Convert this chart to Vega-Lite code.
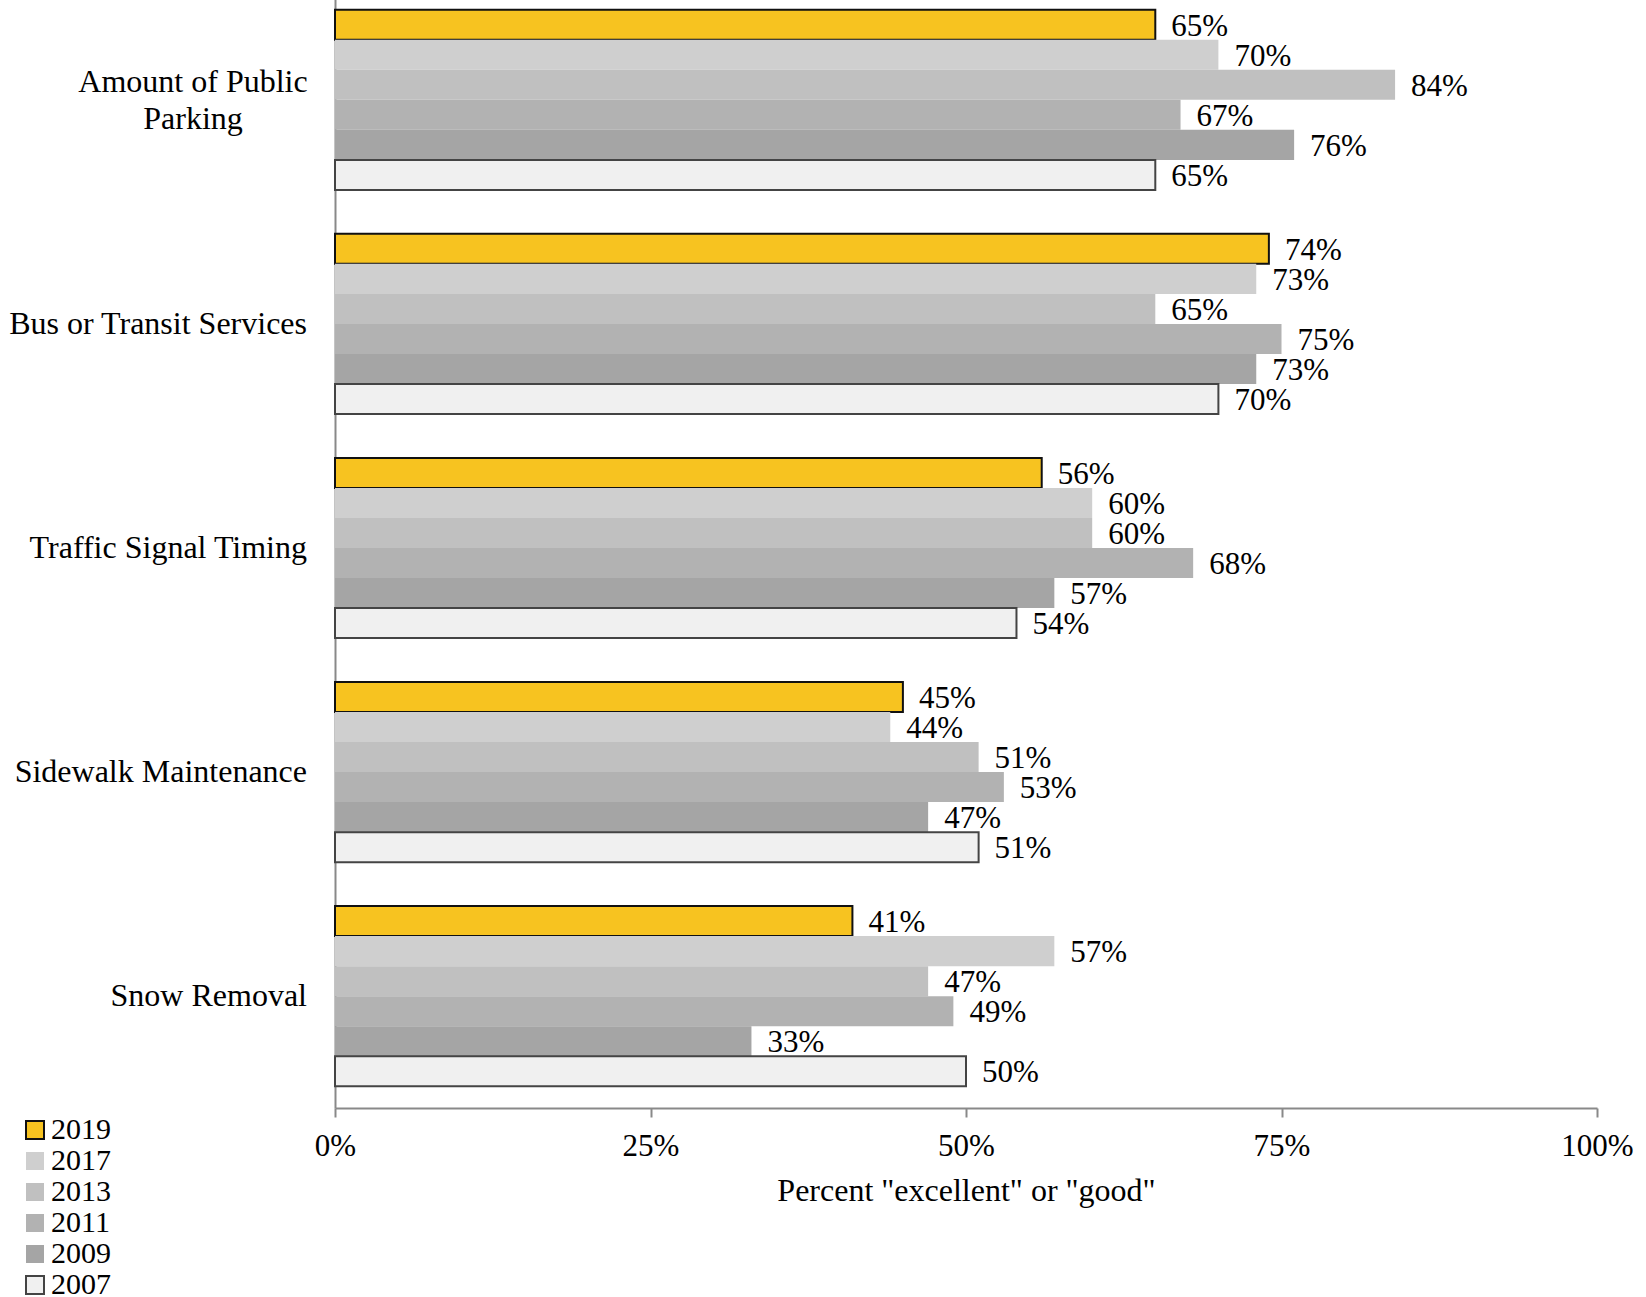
{
  "$schema": "https://vega.github.io/schema/vega-lite/v6.json",
  "autosize": {"type": "none"},
  "padding": {"left": 335, "top": -12, "right": 49, "bottom": 189},
  "width": 1262,
  "height": 1120,
  "background": "white",
  "config": {
    "font": "Liberation Serif",
    "view": {"stroke": null},
    "axis": {"labelFont": "Liberation Serif", "titleFont": "Liberation Serif", "labelColor": "black", "titleColor": "black", "grid": false}
  },
  "datasets": {
    "bars": [
      {"category": "Amount of Public Parking", "year": "2019", "value": 0.65},
      {"category": "Amount of Public Parking", "year": "2017", "value": 0.70},
      {"category": "Amount of Public Parking", "year": "2013", "value": 0.84},
      {"category": "Amount of Public Parking", "year": "2011", "value": 0.67},
      {"category": "Amount of Public Parking", "year": "2009", "value": 0.76},
      {"category": "Amount of Public Parking", "year": "2007", "value": 0.65},
      {"category": "Bus or Transit Services", "year": "2019", "value": 0.74},
      {"category": "Bus or Transit Services", "year": "2017", "value": 0.73},
      {"category": "Bus or Transit Services", "year": "2013", "value": 0.65},
      {"category": "Bus or Transit Services", "year": "2011", "value": 0.75},
      {"category": "Bus or Transit Services", "year": "2009", "value": 0.73},
      {"category": "Bus or Transit Services", "year": "2007", "value": 0.70},
      {"category": "Traffic Signal Timing", "year": "2019", "value": 0.56},
      {"category": "Traffic Signal Timing", "year": "2017", "value": 0.60},
      {"category": "Traffic Signal Timing", "year": "2013", "value": 0.60},
      {"category": "Traffic Signal Timing", "year": "2011", "value": 0.68},
      {"category": "Traffic Signal Timing", "year": "2009", "value": 0.57},
      {"category": "Traffic Signal Timing", "year": "2007", "value": 0.54},
      {"category": "Sidewalk Maintenance", "year": "2019", "value": 0.45},
      {"category": "Sidewalk Maintenance", "year": "2017", "value": 0.44},
      {"category": "Sidewalk Maintenance", "year": "2013", "value": 0.51},
      {"category": "Sidewalk Maintenance", "year": "2011", "value": 0.53},
      {"category": "Sidewalk Maintenance", "year": "2009", "value": 0.47},
      {"category": "Sidewalk Maintenance", "year": "2007", "value": 0.51},
      {"category": "Snow Removal", "year": "2019", "value": 0.41},
      {"category": "Snow Removal", "year": "2017", "value": 0.57},
      {"category": "Snow Removal", "year": "2013", "value": 0.47},
      {"category": "Snow Removal", "year": "2011", "value": 0.49},
      {"category": "Snow Removal", "year": "2009", "value": 0.33},
      {"category": "Snow Removal", "year": "2007", "value": 0.50}
    ],
    "labels": [
      {"category": "Amount of Public Parking", "label": ["Amount of Public", "Parking"], "wrapped": true},
      {"category": "Bus or Transit Services", "label": "Bus or Transit Services", "wrapped": false},
      {"category": "Traffic Signal Timing", "label": "Traffic Signal Timing", "wrapped": false},
      {"category": "Sidewalk Maintenance", "label": "Sidewalk Maintenance", "wrapped": false},
      {"category": "Snow Removal", "label": "Snow Removal", "wrapped": false}
    ]
  },
  "layer": [
    {
      "data": {"name": "bars"},
      "mark": {"type": "bar", "strokeWidth": 2},
      "encoding": {
        "y": {
          "field": "category", "type": "nominal",
          "scale": {"domain": ["Amount of Public Parking", "Bus or Transit Services", "Traffic Signal Timing", "Sidewalk Maintenance", "Snow Removal"], "paddingInner": 0.196, "paddingOuter": 0.097},
          "axis": {"title": null, "ticks": false, "labels": false, "domainColor": "#898989", "domainWidth": 2}
        },
        "yOffset": {
          "field": "year", "type": "nominal",
          "scale": {"domain": ["2019", "2017", "2013", "2011", "2009", "2007"], "paddingInner": 0, "paddingOuter": 0}
        },
        "x": {
          "field": "value", "type": "quantitative",
          "scale": {"domain": [0, 1]},
          "axis": {
            "values": [0, 0.25, 0.5, 0.75, 1], "format": ".0%",
            "title": "Percent \"excellent\" or \"good\"", "titleFontSize": 32, "titleFontWeight": "normal", "titlePadding": 14,
            "labelFontSize": 31, "labelPadding": 14, "tickSize": 9, "tickColor": "#898989", "tickWidth": 2,
            "domainColor": "#898989", "domainWidth": 2, "labelFlush": false
          }
        },
        "color": {
          "field": "year", "type": "nominal",
          "scale": {"domain": ["2019", "2017", "2013", "2011", "2009", "2007"], "range": ["#f7c320", "#cfcfcf", "#c0c0c0", "#b2b2b2", "#a5a5a5", "#f0f0f0"]},
          "legend": {
            "title": null, "orient": "none", "legendX": -315, "legendY": 1127,
            "symbolType": "square", "symbolSize": 324, "symbolOpacity": 1, "symbolStrokeWidth": 2,
            "labelFontSize": 30, "labelFont": "Liberation Serif", "labelColor": "black", "labelOffset": 1, "rowPadding": 1
          }
        },
        "stroke": {
          "field": "year", "type": "nominal",
          "scale": {"domain": ["2019", "2017", "2013", "2011", "2009", "2007"], "range": ["#111111", "transparent", "transparent", "transparent", "transparent", "#444444"]},
          "legend": null
        }
      }
    },
    {
      "data": {"name": "bars"},
      "mark": {"type": "text", "align": "left", "baseline": "middle", "dx": 16, "dy": 2, "fontSize": 31, "font": "Liberation Serif", "color": "black"},
      "encoding": {
        "y": {"field": "category", "type": "nominal"},
        "yOffset": {"field": "year", "type": "nominal"},
        "x": {"field": "value", "type": "quantitative"},
        "text": {"field": "value", "type": "quantitative", "format": ".0%"}
      }
    },
    {
      "data": {"name": "labels"},
      "transform": [{"filter": "!datum.wrapped"}],
      "mark": {"type": "text", "align": "right", "baseline": "middle", "dx": -28, "fontSize": 32, "font": "Liberation Serif", "color": "black"},
      "encoding": {
        "y": {"field": "category", "type": "nominal"},
        "x": {"datum": 0, "type": "quantitative"},
        "text": {"field": "label"}
      }
    },
    {
      "data": {"name": "labels"},
      "transform": [{"filter": "datum.wrapped"}],
      "mark": {"type": "text", "align": "center", "baseline": "middle", "dx": -142, "dy": -18, "lineHeight": 37, "fontSize": 32, "font": "Liberation Serif", "color": "black"},
      "encoding": {
        "y": {"field": "category", "type": "nominal"},
        "x": {"datum": 0, "type": "quantitative"},
        "text": {"field": "label"}
      }
    }
  ]
}
